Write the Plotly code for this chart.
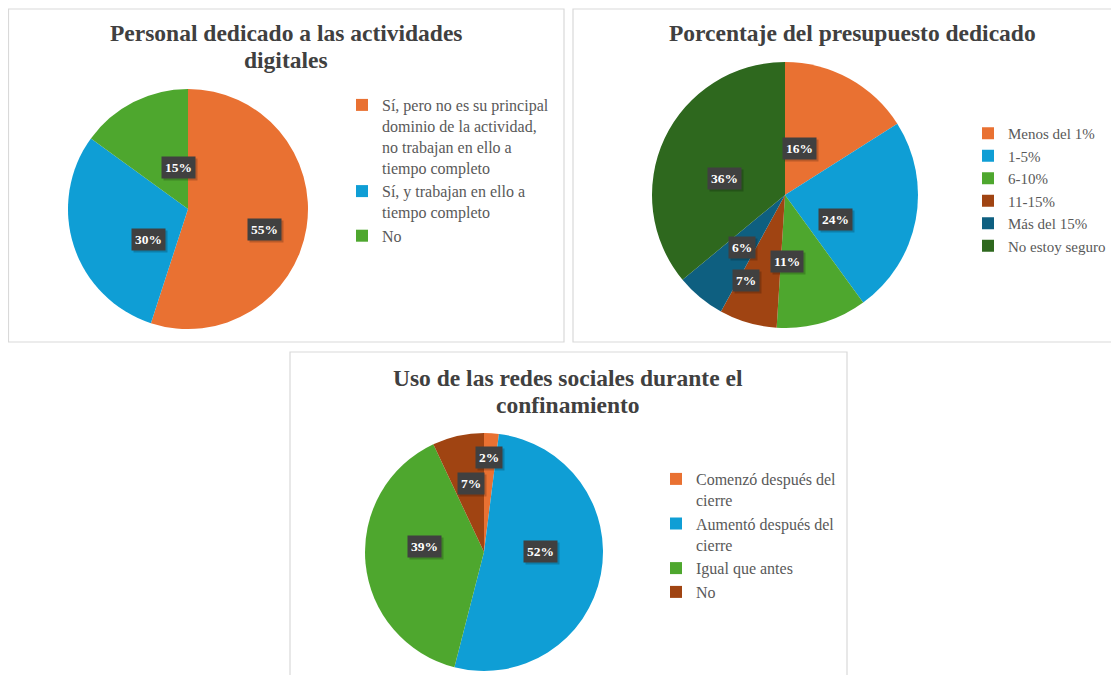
import math
import plotly.graph_objects as go

# ---------------- data ----------------
p1_title = ["Personal dedicado a las actividades", "digitales"]
p1_labels = [
    "Sí, pero no es su principal<br>dominio de la actividad,<br>no trabajan en ello a<br>tiempo completo",
    "Sí, y trabajan en ello a<br>tiempo completo",
    "No",
]
p1_values = [55, 30, 15]

p2_title = ["Porcentaje del presupuesto dedicado"]
p2_labels = ["Menos del 1%", "1-5%", "6-10%", "11-15%", "Más del 15%", "No estoy seguro"]
p2_values = [16, 24, 11, 7, 6, 36]

p3_title = ["Uso de las redes sociales durante el", "confinamiento"]
# zero-width space keeps this "No" distinct from the first chart's "No" legend entry
p3_labels = ["Comenzó después del<br>cierre", "Aumentó después del<br>cierre", "Igual que antes", "No\u200b"]
p3_values = [2, 52, 39, 7]

# ---------------- style ----------------
ORANGE, BLUE, GREEN = "#E97132", "#0F9ED5", "#4EA72E"
BROWN, DBLUE, DGREEN = "#A04412", "#0E5F80", "#2E681E"
p1_colors = [ORANGE, BLUE, GREEN]
p2_colors = [ORANGE, BLUE, GREEN, BROWN, DBLUE, DGREEN]
p3_colors = [ORANGE, BLUE, GREEN, BROWN]

SERIF = "Liberation Serif"
TITLE_COLOR = "#404040"
LEGEND_COLOR = "#595959"
BORDER = "#D9D9D9"

# page geometry: 8px body margin on every side; nothing may overflow the figure
OFF = 8
FW, FH = 1119 - 2 * OFF, 683 - 2 * OFF


def PX(px):
    return (px - OFF) / FW


def PY(py):
    return 1 - (py - OFF) / FH


# pixel geometry of each pie (center x, center y, radius, label radial factors)
geo = {
    1: dict(cx=188, cy=209, r=120, lab=[0.5, 0.5, 0.5]),
    2: dict(cx=785, cy=195, r=133, lab=[0.5, 0.52, 0.52, 0.67, 0.51, 0.5]),
    3: dict(cx=484, cy=552, r=119, lab=[0.7, 0.48, 0.5, 0.49]),
}


def domain(g):
    return dict(
        x=[PX(g["cx"] - g["r"]), PX(g["cx"] + g["r"])],
        y=[PY(g["cy"] + g["r"]), PY(g["cy"] - g["r"])],
    )


fig = go.Figure()
pies = [
    (1, p1_labels, p1_values, p1_colors, "legend"),
    (2, p2_labels, p2_values, p2_colors, "legend2"),
    (3, p3_labels, p3_values, p3_colors, "legend3"),
]
annotations = []
for k, labels, values, colors, leg in pies:
    g = geo[k]
    fig.add_trace(go.Pie(
        labels=labels, values=values, sort=False, direction="clockwise", rotation=0,
        marker=dict(colors=colors, line=dict(width=0)),
        textinfo="none", domain=domain(g), legend=leg, showlegend=True,
        hovertemplate="%{label}: %{value}%<extra></extra>",
    ))
    total = sum(values)
    cum = 0
    for i, v in enumerate(values):
        theta = 2 * math.pi * (cum + v / 2) / total
        cum += v
        f = g["lab"][i]
        px = g["cx"] + f * g["r"] * math.sin(theta)
        py = g["cy"] - f * g["r"] * math.cos(theta)
        txt = f"<b>{v}%</b>"
        annotations.append(dict(
            x=PX(px), y=PY(py), xref="paper", yref="paper", text=txt, showarrow=False,
            font=dict(family=SERIF, size=13.5, color="rgba(0,0,0,0)"),
            bgcolor="rgba(0,0,0,0.2)", borderpad=3, xshift=2, yshift=-2,
        ))
        annotations.append(dict(
            x=PX(px), y=PY(py), xref="paper", yref="paper", text=txt, showarrow=False,
            font=dict(family=SERIF, size=13.5, color="white"),
            bgcolor="#404040", borderpad=3,
        ))

# titles (one annotation per line)
titles = [(p1_title, 286, 33), (p2_title, 852, 33), (p3_title, 568, 378)]
for lines, x, y0 in titles:
    for j, line in enumerate(lines):
        annotations.append(dict(
            x=PX(x), y=PY(y0 + 27 * j), xref="paper", yref="paper", text=f"<b>{line}</b>",
            showarrow=False, xanchor="center", yanchor="middle",
            font=dict(family=SERIF, size=23.5, color=TITLE_COLOR),
        ))

# panel borders (panels 2 and 3 run off the picture's edge: open paths ending at the edge)
line_style = dict(color=BORDER, width=1.2)
shapes = [
    dict(type="rect", xref="paper", yref="paper",
         x0=PX(8.5), x1=PX(564), y0=PY(342), y1=PY(9),
         line=line_style, fillcolor="rgba(0,0,0,0)", layer="below"),
    dict(type="path", xref="paper", yref="paper", layer="below", line=line_style,
         path=f"M 1,{PY(342)} L {PX(573)},{PY(342)} L {PX(573)},{PY(9)} L 1,{PY(9)}"),
    dict(type="path", xref="paper", yref="paper", layer="below", line=line_style,
         path=f"M {PX(290)},0 L {PX(290)},{PY(352)} L {PX(847)},{PY(352)} L {PX(847)},0"),
]


def legend(x, y, size, xanchor="left"):
    return dict(
        x=x, y=PY(y), xanchor=xanchor, yanchor="top", xref="paper", yref="paper",
        bgcolor="rgba(0,0,0,0)", valign="top", itemwidth=30,
        font=dict(family=SERIF, size=size, color=LEGEND_COLOR),
    )


fig.update_layout(
    width=FW, height=FH, margin=dict(l=0, r=0, t=0, b=0),
    paper_bgcolor="white", plot_bgcolor="white",
    annotations=annotations, shapes=shapes,
    legend=legend(PX(342), 88, 16),
    legend2=legend(1.0, 117, 15, xanchor="right"),
    legend3=legend(PX(656), 462, 16),
)

fig.write_html("out.html")
